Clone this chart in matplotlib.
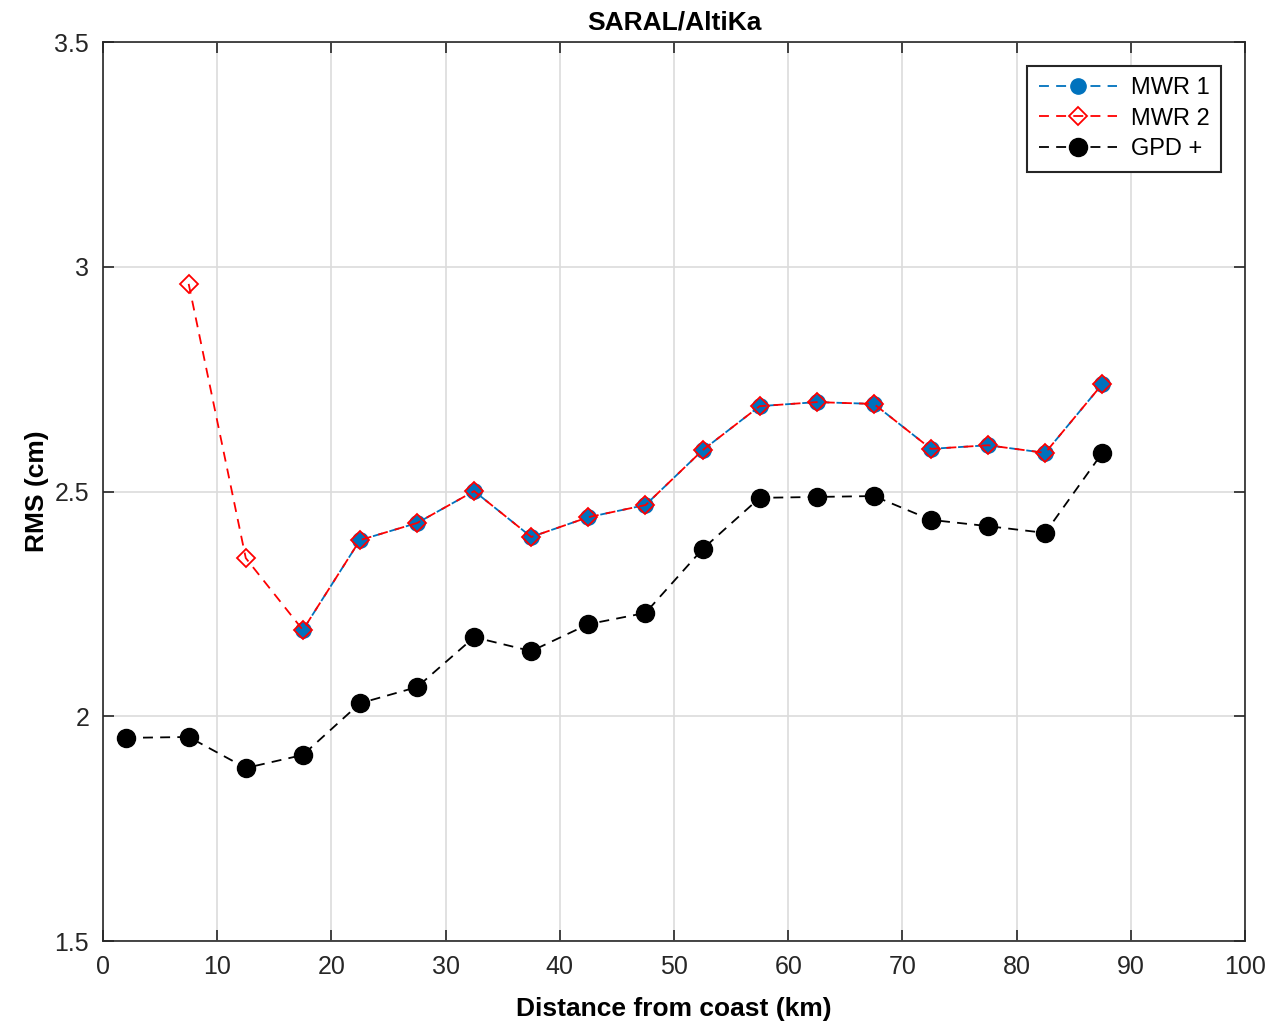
import numpy as np
import matplotlib
matplotlib.use('Agg')
import matplotlib.pyplot as plt

plt.rcParams['font.family'] = ['Liberation Sans', 'DejaVu Sans']

# distances (km)
x_gpd = [2, 7.5, 12.5, 17.5, 22.5, 27.5, 32.5, 37.5, 42.5, 47.5,
         52.5, 57.5, 62.5, 67.5, 72.5, 77.5, 82.5, 87.5]
x_mwr2 = [7.5, 12.5, 17.5, 22.5, 27.5, 32.5, 37.5, 42.5, 47.5,
          52.5, 57.5, 62.5, 67.5, 72.5, 77.5, 82.5, 87.5]
x_mwr1 = x_mwr2[2:]

gpd = [1.952, 1.954, 1.885, 1.914, 2.029, 2.065, 2.176, 2.145, 2.205, 2.230,
       2.372, 2.486, 2.488, 2.490, 2.437, 2.423, 2.408, 2.586]
mwr2 = [2.962, 2.352, 2.192, 2.392, 2.430, 2.501, 2.399, 2.443, 2.470,
        2.592, 2.690, 2.699, 2.695, 2.595, 2.603, 2.586, 2.739]
mwr1 = mwr2[2:]

fig = plt.figure(figsize=(12.75, 10.26), dpi=100)
ax = fig.add_axes([0.0808, 0.0828, 0.8957, 0.8762])

ax.plot(x_mwr1, mwr1, '--o', color='#0072BD', markersize=11, lw=1.3,
        dashes=(5.5, 4), label='MWR 1')
ax.plot(x_mwr2, mwr2, '--D', color='red', markersize=9, lw=1.3,
        markerfacecolor='none', markeredgewidth=1.3, dashes=(5.5, 4), label='MWR 2')
ax.plot(x_gpd, gpd, '--o', color='black', markersize=13, lw=1.3,
        dashes=(5.5, 4), label='GPD +')

ax.set_xlim(0, 100)
ax.set_ylim(1.5, 3.5)
ax.set_xticks(np.arange(0, 101, 10))
ax.set_yticks([1.5, 2, 2.5, 3, 3.5])
ax.set_yticklabels(['1.5', '2', '2.5', '3', '3.5'])
ax.grid(True, color='#dcdcdc', lw=1.2)
ax.set_axisbelow(True)
ax.tick_params(direction='in', top=True, right=True, length=8, width=1.2,
               labelsize=18, colors='#262626', pad=10)
for s in ax.spines.values():
    s.set_color('#262626')
    s.set_linewidth(1.2)

ax.set_title('SARAL/AltiKa', fontsize=19, fontweight='bold', pad=9)
ax.set_xlabel('Distance from coast (km)', fontsize=19, fontweight='bold', labelpad=13)
ax.set_ylabel('RMS (cm)', fontsize=19, fontweight='bold', labelpad=4)

leg = ax.legend(loc='upper right', fontsize=17, fancybox=False, framealpha=1,
                edgecolor='#262626', borderaxespad=1.0, handlelength=3.3,
                labelspacing=0.35, borderpad=0.5, handletextpad=0.6)
leg.get_frame().set_linewidth(1.5)

fig.savefig('out.png', dpi=100)
